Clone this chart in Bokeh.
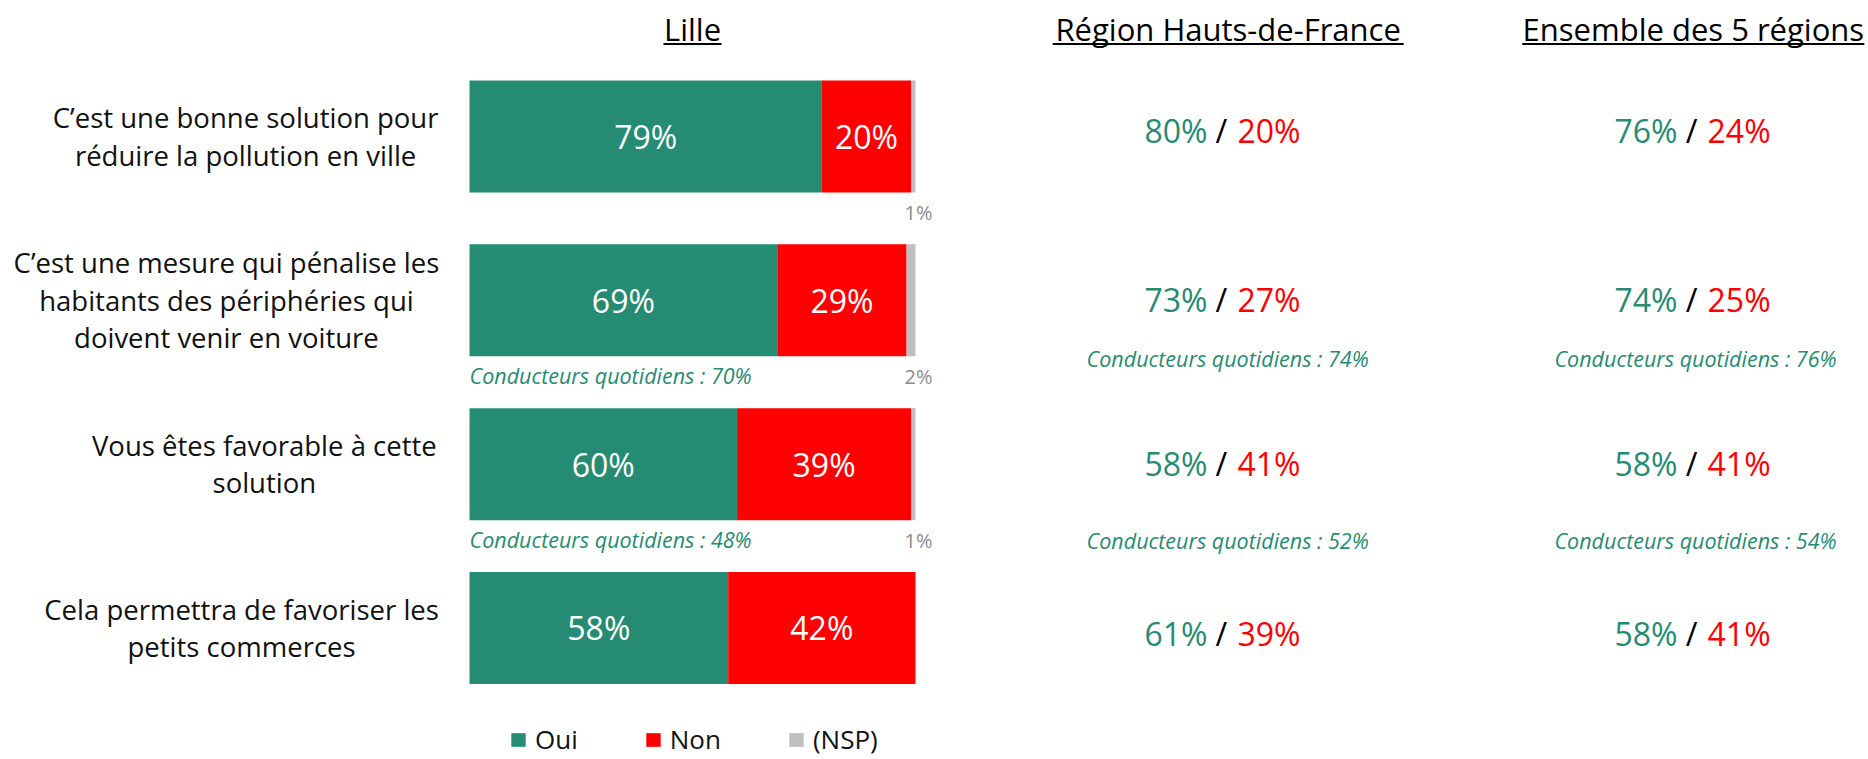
from bokeh.plotting import figure
from bokeh.models import Range1d, ColumnDataSource, Legend, LegendItem
from bokeh.core.properties import value
from bokeh.embed import file_html
from bokeh.resources import INLINE

# ---------------- data ----------------
categories = [
    "C’est une bonne solution pour\nréduire la pollution en ville",
    "C’est une mesure qui pénalise les\nhabitants des périphéries qui\ndoivent venir en voiture",
    "Vous êtes favorable à cette\nsolution",
    "Cela permettra de favoriser les\npetits commerces",
]
lille_oui = [79, 69, 60, 58]
lille_non = [20, 29, 39, 42]
lille_nsp = [1, 2, 1, 0]
hdf_oui = [80, 73, 58, 61]
hdf_non = [20, 27, 41, 39]
ens_oui = [76, 74, 58, 58]
ens_non = [24, 25, 41, 41]
cq_lille = [None, 70, 48, None]
cq_hdf = [None, 74, 52, None]
cq_ens = [None, 76, 54, None]
column_titles = ["Lille", "Région Hauts-de-France", "Ensemble des 5 régions"]
legend_labels = ["Oui", "Non", "(NSP)"]
cq_prefix = "Conducteurs quotidiens : "

# ---------------- layout / style ----------------
W, H = 1868, 759
PX = 4.46            # pixels per percentage point
X0 = 469             # canvas x of 0 %
ROW0 = 136           # canvas y of first row centre
STEP = 163.83        # pixels between rows
BAR_H = 0.684
GREEN = "#268B73"
RED = "#FF0000"
GRAY = "#BFBFBF"
FONT_NAME = "Open Sans"
FONT = value(FONT_NAME)

label_cx = [-50.2, -54.5, -46.0, -51.1]      # centre of each label block (data units)
col_x = [50.0, 168.6, 274.0]                  # value column centres (data units)
cq_x = [0.0, 170.0, 274.9]                    # "Conducteurs" centres (data units)
title_x = [50.0, 170.1, 274.4]
title_half_px = [29, 175.5, 171]
title_y = -0.659
underline_y = -0.5646
value_dy = [-6, -1, -1, 6]
cq_right_dy = [0, 2, 20, 0]

rows = list(range(len(categories)))

p = figure(width=W, height=H, output_backend="svg", toolbar_location=None,
           x_range=Range1d(-X0 / PX, (W - X0) / PX),
           y_range=Range1d((H - ROW0) / STEP, -ROW0 / STEP),
           x_axis_location=None, y_axis_location=None, min_border=0,
           outline_line_color=None)
p.grid.visible = False
p.background_fill_color = "white"

# ---- stacked bars ----
src = ColumnDataSource(dict(row=rows, oui=lille_oui, non=lille_non, nsp=lille_nsp))
rends = p.hbar_stack(["oui", "non", "nsp"], y="row", height=BAR_H,
                     fill_color=[GREEN, RED, GRAY], line_color=None, source=src)

# ---- labels inside bars ----
oui_mid = [o / 2 for o in lille_oui]
non_mid = [o + n / 2 for o, n in zip(lille_oui, lille_non)]
p.text(x=oui_mid, y=rows, text=[f"{v}%" for v in lille_oui], text_color="white",
       text_font=FONT, text_font_size="32px", text_align="center", text_baseline="middle")
p.text(x=non_mid, y=rows, text=[f"{v}%" for v in lille_non], text_color="white",
       text_font=FONT, text_font_size="32px", text_align="center", text_baseline="middle")

# ---- NSP labels under bar end ----
nsp_rows = [r for r in rows if lille_nsp[r] > 0]
p.text(x=[lille_oui[r] + lille_non[r] + lille_nsp[r] for r in nsp_rows],
       y=[r + BAR_H / 2 for r in nsp_rows],
       text=[f"{lille_nsp[r]}%" for r in nsp_rows], text_color="#8C8C8C",
       text_font=FONT, text_font_size="20px", text_align="center",
       text_baseline="middle", x_offset=3, y_offset=20)

# ---- row labels ----
p.text(x=label_cx, y=rows, text=categories, text_color="#111111", text_font=FONT,
       text_font_size="27.5px", text_align="center", text_baseline="middle",
       text_line_height=1.01)

# ---- column titles with underline ----
p.text(x=title_x, y=[title_y] * 3, text=column_titles, text_color="black",
       text_font=FONT, text_font_size="31px", text_align="center",
       text_baseline="middle")
p.segment(x0=[c - h / PX for c, h in zip(title_x, title_half_px)], y0=[underline_y] * 3,
          x1=[c + h / PX for c, h in zip(title_x, title_half_px)], y1=[underline_y] * 3,
          line_color="black", line_width=2)

# ---- "Conducteurs quotidiens" for Lille ----
cq_rows = [r for r in rows if cq_lille[r] is not None]
p.text(x=[cq_x[0]] * len(cq_rows), y=[r + BAR_H / 2 for r in cq_rows],
       text=[f"{cq_prefix}{cq_lille[r]}%" for r in cq_rows], text_color=GREEN,
       text_font=FONT, text_font_size="21.5px", text_font_style="italic",
       text_align="left", text_baseline="middle", y_offset=19)

# ---- regional columns ----
for cx, qx, oui, non, cq in ((col_x[1], cq_x[1], hdf_oui, hdf_non, cq_hdf),
                             (col_x[2], cq_x[2], ens_oui, ens_non, cq_ens)):
    p.text(x=[cx] * len(rows), y=rows, text=[f"{v}%" for v in oui], text_color=GREEN,
           text_font=FONT, text_font_size="32px", text_align="right",
           text_baseline="middle", x_offset=-14, y_offset=value_dy)
    p.text(x=[cx] * len(rows), y=rows, text=["/"] * len(rows), text_color="black",
           text_font=FONT, text_font_size="32px", text_align="center",
           text_baseline="middle", y_offset=value_dy)
    p.text(x=[cx] * len(rows), y=rows, text=[f"{v}%" for v in non], text_color=RED,
           text_font=FONT, text_font_size="32px", text_align="left",
           text_baseline="middle", x_offset=16, y_offset=value_dy)
    rr = [r for r in rows if cq[r] is not None]
    p.text(x=[qx] * len(rr), y=[r + BAR_H / 2 for r in rr],
           text=[f"{cq_prefix}{cq[r]}%" for r in rr], text_color=GREEN,
           text_font=FONT, text_font_size="21.5px", text_font_style="italic",
           text_align="center", text_baseline="middle",
           y_offset=[cq_right_dy[r] for r in rr])

# ---- legend ----
legend = Legend(items=[LegendItem(label=l, renderers=[r]) for l, r in zip(legend_labels, rends)],
                orientation="horizontal", location=(509, 2), spacing=66,
                label_standoff=8, glyph_width=18, glyph_height=17, padding=0, margin=0,
                border_line_alpha=0, background_fill_alpha=0,
                label_text_font=FONT_NAME, label_text_font_size="26px",
                label_text_color="#111111")
p.add_layout(legend, "center")

open("out.html", "w").write(file_html(p, INLINE))
